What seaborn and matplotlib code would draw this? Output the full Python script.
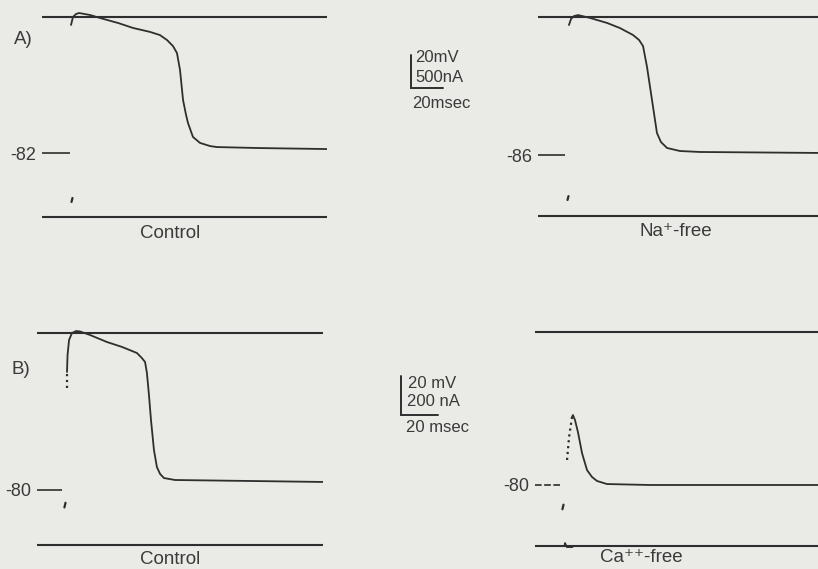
import numpy as np
import matplotlib
matplotlib.use("Agg")
import matplotlib.pyplot as plt
import seaborn as sns

# ---------------- data (time in ms from stimulus, membrane potential in mV) ----------------
# A) Control
a_ctrl_t = [-0.6, 0.6, 2.5, 4.4, 11.3, 17.5, 28.8, 38.1, 48.8, 55.0, 59.4, 63.1, 65.6, 67.5,
            69.4, 71.3, 72.5, 75.6, 80.0, 86.3, 90.6, 117.5, 159.4]
a_ctrl_v = [-4.8, 0.0, 1.8, 2.4, 1.2, -0.6, -3.6, -6.6, -9.0, -10.9, -13.9, -17.5, -21.7, -31.9,
            -50.0, -59.1, -63.9, -72.3, -75.9, -77.8, -78.4, -79.0, -79.6]
# A) Na+-free
a_na_t = [0.6, 1.9, 3.8, 6.3, 13.8, 24.4, 32.5, 40.6, 44.4, 46.9, 49.4, 52.5, 55.6, 58.1,
          61.9, 70.0, 82.5, 156.3]
a_na_v = [-5.0, -1.2, 0.6, 1.2, -0.6, -3.7, -6.9, -11.2, -14.3, -18.1, -31.2, -51.7, -72.3, -77.9,
          -81.6, -83.5, -84.1, -84.7]
# B) Control
b_ctrl_fast_t = [0.0, 0.0]
b_ctrl_fast_v = [-28.1, -19.9]
b_ctrl_t = [0.0, 0.3, 1.1, 2.7, 4.9, 7.0, 12.4, 21.6, 29.7, 37.8, 40.5, 42.2, 43.2, 44.3, 45.4,
            47.0, 48.6, 50.3, 52.4, 58.4, 98.9, 138.4]
b_ctrl_v = [-19.9, -11.2, -3.6, 0.0, 1.0, 0.8, -1.0, -4.6, -7.1, -10.2, -12.8, -14.8, -20.4, -31.6, -44.4,
            -59.7, -68.4, -71.9, -74.0, -75.0, -75.5, -76.0]
# B) Ca++-free
b_ca_fast_t = [1.1, 2.2, 3.8]
b_ca_fast_v = [-67.0, -55.0, -44.5]
b_ca_t = [3.8, 4.3, 5.4, 7.0, 9.2, 11.9, 14.6, 17.3, 22.7, 45.9, 136.8]
b_ca_v = [-44.5, -43.5, -46.1, -52.4, -63.4, -72.3, -75.9, -78.0, -79.6, -80.1, -80.1]

resting = [-82, -86, -80, -80]
conditions = ["Control", "Na\u207a-free", "Control", "Ca\u207a\u207a-free"]
panel_letters = ["A)", "B)"]
scale_a = ["20mV", "500nA", "20msec"]
scale_b = ["20 mV", "200 nA", "20 msec"]
scale_mv, scale_ms = 20, 20

# ---------------- style ----------------
sns.set_theme(style="white")
plt.rcParams["font.family"] = ["Liberation Sans", "DejaVu Sans"]
BG = "#eaeae7"
LC = "#2e2e2e"
TC = "#3a3a3a"
W, H = 818, 569

fig = plt.figure(figsize=(W / 100, H / 100), dpi=100, facecolor=BG)


def add_panel(box, stim_px, px_ms, zero_px, px_mv):
    x0, x1, y0, y1 = box
    ax = fig.add_axes([x0 / W, 1 - y1 / H, (x1 - x0) / W, (y1 - y0) / H])
    ax.set_xlim((x0 - stim_px) / px_ms, (x1 - stim_px) / px_ms)
    ax.set_ylim((zero_px - y1) / px_mv, (zero_px - y0) / px_mv)
    ax.set_facecolor("none")
    for s in ax.spines.values():
        s.set_visible(False)
    ax.set_xticks([])
    ax.grid(False)
    return ax


def ftext(xpx, ypx, s, **kw):
    fig.text(xpx / W, 1 - ypx / H, s, color=TC, **kw)


panels = [
    dict(box=(42, 327, 5, 225), stim=72, pxms=1.6, zero=17, pxmv=1.659, cur=-120.3,
         stimdot=(0, -110.3), tick=20),
    dict(box=(538, 818, 5, 225), stim=568, pxms=1.6, zero=17, pxmv=1.605, cur=-124.0,
         stimdot=(0, -112.8), tick=19.5),
    dict(box=(37, 323, 320, 555), stim=67, pxms=1.85, zero=333, pxmv=1.96, cur=-108.2,
         stimdot=(-1.1, -87.8), tick=18),
    dict(box=(535, 818, 320, 555), stim=565, pxms=1.85, zero=332, pxmv=1.91, cur=-112.0,
         stimdot=(-1.1, -91.6), tick=0),
]
traces = [
    [(a_ctrl_t, a_ctrl_v, "-")],
    [(a_na_t, a_na_v, "-")],
    [(b_ctrl_fast_t, b_ctrl_fast_v, ":"), (b_ctrl_t, b_ctrl_v, "-")],
    [(b_ca_fast_t, b_ca_fast_v, ":"), (b_ca_t, b_ca_v, "-")],
]

axes = []
for i, p in enumerate(panels):
    ax = add_panel(p["box"], p["stim"], p["pxms"], p["zero"], p["pxmv"])
    axes.append(ax)
    # 0 mV reference and current baseline
    ax.axhline(0, color=LC, lw=1.5)
    ax.axhline(p["cur"], color=LC, lw=1.5)
    for t, v, ls in traces[i]:
        sns.lineplot(x=np.array(t, float), y=np.array(v, float), ax=ax, color=LC,
                     lw=1.6 if ls == ":" else 1.3, linestyle=ls, sort=False, estimator=None)
    sx, sy = p["stimdot"]
    ax.plot([sx - 0.3, sx + 0.3], [sy - 1.2, sy + 1.2], color=LC, lw=1.6, solid_capstyle="round")
    # resting potential tick
    ax.set_yticks([resting[i]])
    ax.set_yticklabels([f"-{abs(resting[i])}"])
    ax.tick_params(axis="y", direction="in", length=p["tick"], width=1.2, pad=4,
                   labelsize=13, colors=LC, labelcolor=TC, left=p["tick"] > 0)
    ax.set_xlabel("")
    ax.set_ylabel("")

# dashed resting tick for Ca++-free
ax = axes[3]
x0 = ax.get_xlim()[0]
ax.plot([x0, x0 + 25 / panels[3]["pxms"]], [resting[3], resting[3]], color=LC, lw=1.2,
        linestyle=(0, (4, 1.5)))
# stimulus current notch in Ca++-free current trace
ax.plot([-2.0, -0.2, 0.0, 1.0, 4.0], [panels[3]["cur"], panels[3]["cur"], panels[3]["cur"] + 1.5,
                                      panels[3]["cur"] - 0.6, panels[3]["cur"] - 0.6],
        color=LC, lw=1.3)

# scale bars (drawn in data units of the left panels)
for ax, (ct, cv) in [(axes[0], (212.0, -42.8)), (axes[2], (180.5, -41.8))]:
    ax.plot([ct, ct, ct + scale_ms], [cv + scale_mv, cv, cv], color=LC, lw=1.4, clip_on=False,
            solid_joinstyle="miter")

ftext(415, 58, scale_a[0], fontsize=12, va="center", ha="left")
ftext(415, 78, scale_a[1], fontsize=12, va="center", ha="left")
ftext(412, 103, scale_a[2], fontsize=12, va="center", ha="left")
ftext(408, 383, scale_b[0], fontsize=12, va="center", ha="left")
ftext(407, 402, scale_b[1], fontsize=12, va="center", ha="left")
ftext(406, 428, scale_b[2], fontsize=12, va="center", ha="left")

# panel letters and condition labels
ftext(23, 40, panel_letters[0], fontsize=13.5, va="center", ha="center")
ftext(21, 370, panel_letters[1], fontsize=13.5, va="center", ha="center")
for (xp, yp), s in zip([(170, 234), (676, 231), (170, 560), (641, 558)], conditions):
    ftext(xp, yp, s, fontsize=13.5, va="center", ha="center")

fig.savefig("out.png", dpi=100, facecolor=BG)
